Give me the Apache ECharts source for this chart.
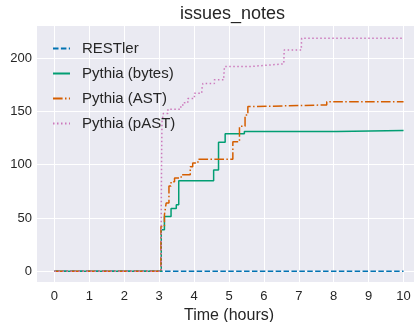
<!DOCTYPE html>
<html>
<head>
<meta charset="utf-8">
<script src="https://cdn.jsdelivr.net/npm/echarts@6/dist/echarts.min.js"></script>
<style>
  html, body { margin: 0; padding: 0; background: #fff; }
  #main { width: 414px; height: 322px; }
</style>
</head>
<body>
<div id="main"></div>
<script>
// [hours, issues] change points, step line
var restler = [[0, 0], [10, 0]];
var pythiaBytes = [[0, 0], [3.06, 39], [3.15, 51.5], [3.34, 59], [3.49, 62.5], [3.56, 85], [4.56, 95],
    [4.70, 121], [4.89, 129], [5.44, 131], [8.08, 132], [10, 132]];
var pythiaAst = [[0, 0], [3.05, 42], [3.15, 53], [3.2, 64], [3.28, 80], [3.34, 84], [3.44, 87.5],
    [3.63, 90.5], [3.89, 98], [3.96, 101.5], [4.11, 105], [5.11, 121.5], [5.30, 136], [5.46, 146.5],
    [5.54, 154.5], [5.73, 156], [7.80, 159], [10, 159]];
var pythiaPast = [[0, 0], [3.06, 60], [3.07, 110], [3.08, 140], [3.12, 148], [3.25, 152], [3.62, 156],
    [3.72, 158], [3.82, 162], [4.01, 167], [4.22, 170], [4.25, 176], [4.58, 179.5], [4.85, 182.5],
    [4.87, 192], [5.6, 193.5], [6.2, 194.5], [6.57, 195], [6.58, 207.5], [7.07, 208], [7.08, 218.5],
    [10, 218.5]];
var names = ['RESTler', 'Pythia (bytes)', 'Pythia (AST)', 'Pythia (pAST)'];
var colors = ['#0173b2', '#029e73', '#d55e00', '#cc78bc'];

var font = '"Liberation Sans", Arial, sans-serif';
var txt = '#262626';
var clear = 'rgba(0,0,0,0)';

function makeSeries(i, data, dash) {
    return {
        name: names[i],
        type: 'line',
        step: 'end',
        data: data,
        symbol: 'none',
        color: colors[i],
        lineStyle: { width: 1.5, type: dash, color: colors[i] },
        animation: false
    };
}

var myChart = echarts.init(document.getElementById('main'), null, { renderer: 'canvas' });
var option = {
    textStyle: { fontFamily: font },
    title: {
        text: 'issues_notes',
        left: 180,
        top: 5,
        padding: 0,
        textStyle: { fontFamily: font, fontSize: 18, fontWeight: 'normal', color: txt }
    },
    grid: {
        show: true,
        backgroundColor: '#EAEAF2',
        borderWidth: 0,
        outerBoundsMode: 'none',
        containLabel: false,
        left: 37,
        top: 26,
        width: 384,
        height: 256
    },
    legend: {
        data: names,
        orient: 'vertical',
        left: 52,
        top: 41,
        padding: 0,
        itemWidth: 17,
        itemHeight: 14,
        itemGap: 10,
        itemStyle: { opacity: 0 },
        textStyle: { fontFamily: font, fontSize: 15, color: txt, padding: [0, 0, 0, 7] }
    },
    xAxis: {
        type: 'value',
        min: -0.5,
        max: 10.5,
        interval: 0.5,
        name: 'Time (hours)',
        nameLocation: 'middle',
        nameGap: 23,
        nameTextStyle: { fontFamily: font, fontSize: 16, color: txt },
        axisLine: { show: false },
        axisTick: { show: false },
        axisLabel: {
            fontFamily: font, fontSize: 13, color: txt, margin: 8,
            formatter: function(v) { return Number.isInteger(v) && v >= 0 && v <= 10 ? String(v) : ''; }
        },
        splitLine: { show: true, lineStyle: { color: [clear, '#ffffff'], width: 1 } }
    },
    yAxis: {
        type: 'value',
        min: -10,
        max: 230,
        interval: 10,
        axisLine: { show: false },
        axisTick: { show: false },
        axisLabel: {
            fontFamily: font, fontSize: 13, color: txt, margin: 5,
            formatter: function(v) { return (v >= 0 && v <= 200 && v % 50 === 0) ? String(v) : ''; }
        },
        splitLine: { show: true, lineStyle: { color: [clear, '#ffffff', clear, clear, clear], width: 1 } }
    },
    series: [
        makeSeries(0, restler, [5.5, 2.4]),
        makeSeries(1, pythiaBytes, 'solid'),
        makeSeries(2, pythiaAst, [9.6, 2.4, 1.5, 2.4]),
        makeSeries(3, pythiaPast, [1.5, 2.5])
    ]
};
myChart.setOption(option);
</script>
</body>
</html>
